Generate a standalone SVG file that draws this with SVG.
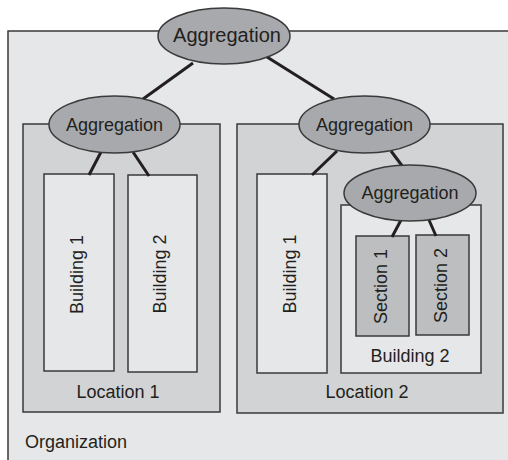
<svg xmlns="http://www.w3.org/2000/svg" width="508" height="460" viewBox="0 0 508 460">
<style>
.box{stroke:#3a3a3a;stroke-width:1.5}
.org{fill:#e6e7e8}
.loc{fill:#d1d3d4}
.bld{fill:#e6e7e8}
.sec{fill:#bcbec0}
.agg{fill:#a7a9ac;stroke:#3a3a3a;stroke-width:1.5}
text{font-family:"Liberation Sans",Arial,sans-serif;font-size:18px;fill:#231f20}
.c{text-anchor:middle}
.conn line{stroke:#231f20;stroke-width:3}
</style>
<rect width="508" height="460" fill="#ffffff"/>
<g id="organization">
<rect class="box org" x="8" y="31" width="510" height="440"/>
<text x="25" y="448">Organization</text>
</g>
<g id="location1">
<rect class="box loc" x="23" y="124" width="197" height="288"/>
<text class="c" x="118" y="398">Location 1</text>
</g>
<g id="location2">
<rect class="box loc" x="237" y="124" width="266" height="289"/>
<text class="c" x="367" y="398">Location 2</text>
</g>
<g id="l1-building1">
<rect class="box bld" x="44" y="174" width="70" height="197"/>
<text class="c" transform="translate(83,274.5) rotate(-90)">Building 1</text>
</g>
<g id="l1-building2">
<rect class="box bld" x="128" y="175" width="69" height="197"/>
<text class="c" transform="translate(166,274) rotate(-90)">Building 2</text>
</g>
<g id="l2-building1">
<rect class="box bld" x="257" y="174" width="70" height="199"/>
<text class="c" transform="translate(296,274) rotate(-90)">Building 1</text>
</g>
<g id="l2-building2">
<rect class="box bld" x="341" y="205" width="140" height="168"/>
<text class="c" x="410" y="362">Building 2</text>
</g>
<g id="section1">
<rect class="box sec" x="356" y="236" width="53" height="100"/>
<text class="c" transform="translate(387,286.5) rotate(-90)">Section 1</text>
</g>
<g id="section2">
<rect class="box sec" x="416" y="235" width="53" height="100"/>
<text class="c" transform="translate(447,285.5) rotate(-90)">Section 2</text>
</g>
<g class="conn" id="connectors">
<line x1="193" y1="63" x2="143" y2="99"/>
<line x1="267" y1="57" x2="334" y2="99"/>
<line x1="101" y1="152" x2="89" y2="175"/>
<line x1="133" y1="152" x2="149" y2="176"/>
<line x1="337" y1="151" x2="312" y2="175"/>
<line x1="391" y1="151" x2="403" y2="167"/>
<line x1="401" y1="220" x2="392" y2="237"/>
<line x1="429" y1="220" x2="436" y2="236"/>
</g>
<g id="agg-top">
<ellipse class="agg" cx="224" cy="36" rx="66" ry="28"/>
<text class="c" x="227" y="42" style="font-size:20px">Aggregation</text>
</g>
<g id="agg-location1">
<ellipse class="agg" cx="114.5" cy="124.5" rx="65.5" ry="28.5"/>
<text class="c" x="114.5" y="130.5">Aggregation</text>
</g>
<g id="agg-location2">
<ellipse class="agg" cx="364.5" cy="124.5" rx="65.5" ry="28.5"/>
<text class="c" x="364.5" y="130.5">Aggregation</text>
</g>
<g id="agg-building2">
<ellipse class="agg" cx="410" cy="193" rx="66" ry="28"/>
<text class="c" x="410" y="199">Aggregation</text>
</g>
</svg>
